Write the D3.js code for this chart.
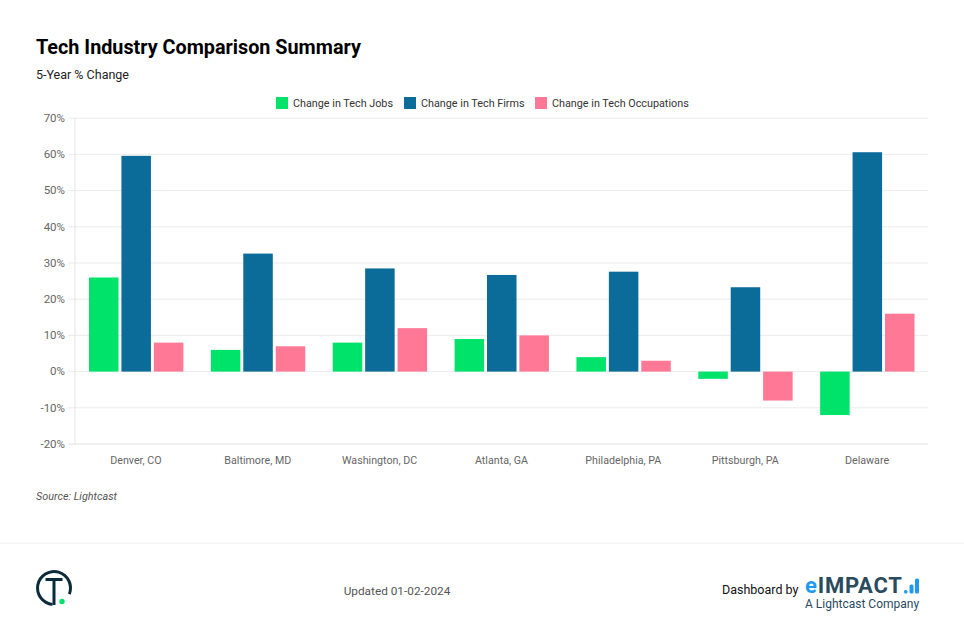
<!DOCTYPE html>
<html><head><meta charset="utf-8">
<script src="https://cdn.jsdelivr.net/npm/d3@7"></script>
<style>html,body{margin:0;padding:0;background:#fff}svg{display:block}text{font-family:Roboto,sans-serif}</style>
</head><body><svg id="c" width="964" height="639"></svg>
<script>
const categories=["Denver, CO","Baltimore, MD","Washington, DC","Atlanta, GA","Philadelphia, PA","Pittsburgh, PA","Delaware"];
const seriesNames=["Change in Tech Jobs","Change in Tech Firms","Change in Tech Occupations"];
const techJobs=[26,6,8,9,4,-2,-12];
const techFirms=[59.6,32.6,28.5,26.7,27.6,23.3,60.6];
const techOccupations=[8,7,12,10,3,-8,16];
const colors=["#00e36b","#0b6b99","#ff7896"];
const yTicks=[-20,-10,0,10,20,30,40,50,60,70];
const seriesValues=[techJobs,techFirms,techOccupations];

const svg=d3.select("#c");
const L=75,R=928,T=118.2,B=444;
const x=d3.scaleBand().domain(categories).range([L,R]);
const inset=14;
const x1=d3.scaleBand().domain(d3.range(3)).range([inset,x.bandwidth()-inset+0.5]).paddingInner(0.09);
const y=d3.scaleLinear().domain([-20,70]).range([B,T]);

svg.append("text").attr("x",36).attr("y",54).attr("font-size",19.8).attr("font-weight",700).attr("fill","#000").text("Tech Industry Comparison Summary");
svg.append("text").attr("x",36).attr("y",79).attr("font-size",12.5).attr("fill","#222").text("5-Year % Change");

// legend
const lx=[276,404,535];
seriesNames.forEach((n,i)=>{
  svg.append("rect").attr("x",lx[i]).attr("y",97).attr("width",12).attr("height",12).attr("fill",colors[i]);
  svg.append("text").attr("x",lx[i]+17).attr("y",107).attr("font-size",10.8).attr("fill","#333").text(n);
});

// grid
const g=svg.append("g");
g.selectAll("line.grid").data(yTicks).join("line").attr("class","grid")
 .attr("x1",L-7).attr("x2",R).attr("y1",d=>y(d)).attr("y2",d=>y(d))
 .attr("stroke",d=>d===-20?"#e0e0e0":"#ececec").attr("stroke-width",1);
g.append("line").attr("x1",L).attr("x2",L).attr("y1",T).attr("y2",B).attr("stroke","#e4e4e4");
g.selectAll("text.yl").data(yTicks).join("text").attr("class","yl")
 .attr("x",L-10).attr("y",d=>y(d)+3.8).attr("text-anchor","end").attr("font-size",11.5).attr("fill","#666").text(d=>d+"%");

// bars
seriesValues.forEach((vals,i)=>{
  g.selectAll("rect.s"+i).data(vals).join("rect").attr("class","s"+i)
   .attr("x",(d,j)=>x(categories[j])+x1(i)).attr("width",x1.bandwidth())
   .attr("y",d=>Math.min(y(d),y(0))).attr("height",d=>Math.abs(y(d)-y(0)))
   .attr("fill",colors[i]);
});

g.selectAll("text.xl").data(categories).join("text").attr("class","xl")
 .attr("x",d=>x(d)+x.bandwidth()/2).attr("y",464).attr("text-anchor","middle").attr("font-size",10.7).attr("fill","#666").text(d=>d);

svg.append("text").attr("x",36).attr("y",500).attr("font-size",10.8).attr("font-style","italic").attr("fill","#555").text("Source: Lightcast");

// footer
svg.append("line").attr("x1",0).attr("x2",964).attr("y1",543).attr("y2",543).attr("stroke","#f0f0f0");
svg.append("text").attr("x",397).attr("y",595).attr("text-anchor","middle").attr("font-size",11.8).attr("fill","#555").text("Updated 01-02-2024");

// logo
const navy="#0b2b3c";
const logo=svg.append("g").attr("transform","translate(54,588)");
logo.append("path").attr("d",d3.arc().innerRadius(15).outerRadius(18).startAngle(-Math.PI*0.97).endAngle(Math.PI*0.62)()).attr("fill",navy);
logo.append("rect").attr("x",-8.5).attr("y",-10).attr("width",17).attr("height",3).attr("fill",navy);
logo.append("rect").attr("x",-1.5).attr("y",-10).attr("width",3).attr("height",27).attr("fill",navy);
logo.append("circle").attr("cx",8).attr("cy",13.5).attr("r",2.7).attr("fill","#00e36b");

svg.append("text").attr("x",722).attr("y",594).attr("font-size",12.5).attr("fill","#111").text("Dashboard by");
const brand=svg.append("text").attr("x",805).attr("y",593).attr("font-size",22).attr("font-weight",700).attr("fill","#2a4a5e").attr("textLength",97).attr("lengthAdjust","spacing");
brand.append("tspan").attr("fill","#1e9bf0").text("e");
brand.append("tspan").text("IMPACT");
const brandBars=[[904,3.5,3.5],[909.5,4,9],[915,4,15]];
svg.selectAll("rect.lg").data(brandBars).join("rect").attr("class","lg").attr("x",d=>d[0]).attr("width",d=>d[1]).attr("y",d=>593.5-d[2]).attr("height",d=>d[2]).attr("rx",1.5).attr("fill","#1e9bf0");
svg.append("text").attr("x",805).attr("y",608).attr("font-size",12).attr("fill","#2a4a5e").text("A Lightcast Company");
</script></body></html>
